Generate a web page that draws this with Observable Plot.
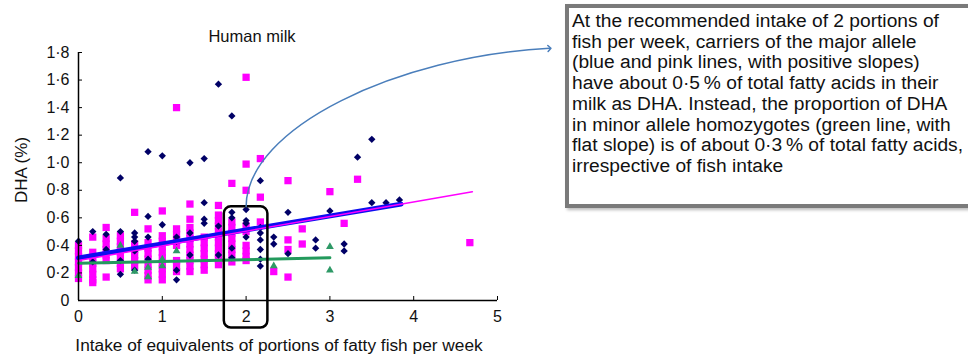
<!DOCTYPE html>
<html>
<head>
<meta charset="utf-8">
<script src="https://cdn.jsdelivr.net/npm/d3@7"></script>
<script src="https://cdn.jsdelivr.net/npm/@observablehq/plot@0.6"></script>
<style>
  html, body { margin: 0; padding: 0; background: #fff; overflow: hidden; }
  #wrap { position: relative; width: 968px; height: 359px; font-family: "Liberation Sans", Arial, sans-serif; color: #111; }
  #wrap svg { position: absolute; left: 0; top: 0; }
  .lbl { position: absolute; white-space: nowrap; font-size: 16px; line-height: 16px; }
  #note { position: absolute; left: 565px; top: 4px; width: 430px; height: 204px; box-sizing: border-box;
          border: 4px solid #7a7a7a; box-shadow: 2px 2px 3px #bbb; background: #fff;
          padding: 3px 0 0 3px; font-size: 19.2px; line-height: 20.7px; white-space: nowrap; color: #111; }
</style>
</head>
<body>
<div id="wrap">
  <div class="lbl" id="title" style="left:252px; top:28px; font-size:16.5px; transform:translateX(-50%);">Human milk</div>
  <div class="lbl" id="ylab" style="left:22px; top:170px; font-size:17px; transform:translate(-50%,-50%) rotate(-90deg);">DHA (%)</div>
  <div class="lbl" id="xlab" style="left:279px; top:337px; font-size:17.3px; transform:translateX(-50%);">Intake of equivalents of portions of fatty fish per week</div>
  <div id="note"></div>
</div>
<script>
// ---- data ----
const xTicks = [0, 1, 2, 3, 4, 5];
const yTicks = [0, 0.2, 0.4, 0.6, 0.8, 1.0, 1.2, 1.4, 1.6, 1.8];

// magenta squares
const pinkPoints = [
  [0,0.40],[0,0.36],[0,0.32],[0,0.28],[0,0.24],[0,0.20],[0,0.16],
  [0.17,0.46],[0.17,0.35],[0.17,0.31],[0.17,0.27],[0.17,0.23],[0.17,0.19],[0.17,0.15],[0.17,0.13],
  [0.33,0.53],[0.33,0.45],[0.33,0.41],[0.33,0.37],[0.33,0.33],[0.33,0.29],[0.33,0.17],
  [0.5,0.47],[0.5,0.43],[0.5,0.39],[0.5,0.35],[0.5,0.31],[0.5,0.27],[0.5,0.23],
  [0.67,0.64],[0.67,0.41],[0.67,0.37],[0.67,0.33],[0.67,0.29],[0.67,0.25],
  [0.83,0.52],[0.83,0.42],[0.83,0.38],[0.83,0.34],[0.83,0.30],[0.83,0.26],[0.83,0.22],[0.83,0.18],[0.83,0.15],
  [1,0.65],[1,0.47],[1,0.43],[1,0.39],[1,0.35],[1,0.31],[1,0.27],[1,0.23],[1,0.19],[1,0.15],
  [1.17,1.40],[1.17,0.52],[1.17,0.48],[1.17,0.44],[1.17,0.40],[1.17,0.29],[1.17,0.25],[1.17,0.21],
  [1.33,0.70],[1.33,0.59],[1.33,0.53],[1.33,0.49],[1.33,0.45],[1.33,0.41],[1.33,0.37],[1.33,0.33],[1.33,0.29],[1.33,0.25],[1.33,0.21],
  [1.5,0.46],[1.5,0.42],[1.5,0.38],[1.5,0.34],[1.5,0.30],[1.5,0.26],[1.5,0.22],
  [1.67,0.69],[1.67,0.62],[1.67,0.58],[1.67,0.54],[1.67,0.50],[1.67,0.46],[1.67,0.42],[1.67,0.38],[1.67,0.34],[1.67,0.30],[1.67,0.26],
  [1.83,0.85],[1.83,0.57],[1.83,0.53],[1.83,0.49],[1.83,0.45],[1.83,0.41],[1.83,0.37],[1.83,0.33],[1.83,0.28],
  [2,1.62],[2,0.99],[2,0.80],[2,0.54],[2,0.50],[2,0.40],[2,0.36],[2,0.32],[2,0.29],
  [2.17,1.03],[2.17,0.75],[2.17,0.57],
  [2.33,0.21],
  [2.5,0.87],[2.5,0.44],[2.5,0.37],[2.5,0.17],
  [2.67,0.52],[2.67,0.41],
  [3,0.79],[3.17,0.56],[3.33,0.88],[4.67,0.42]
];

// navy diamonds
const navyPoints = [
  [0,0.43],
  [0.17,0.50],[0.17,0.28],
  [0.33,0.48],[0.33,0.37],
  [0.5,0.89],[0.5,0.50],[0.5,0.29],[0.5,0.19],
  [0.67,0.49],[0.67,0.46],[0.67,0.43],[0.67,0.36],[0.67,0.22],
  [0.83,1.08],[0.83,0.61],[0.83,0.46],[0.83,0.30],
  [1,1.05],[1,0.55],
  [1.17,0.46],[1.17,0.43],[1.17,0.22],[1.17,0.15],
  [1.33,1.00],[1.33,0.49],[1.33,0.33],
  [1.5,1.03],[1.5,0.71],[1.5,0.59],[1.5,0.56],
  [1.67,1.57],[1.67,0.54],[1.67,0.33],
  [1.83,1.34],[1.83,0.64],[1.83,0.60],[1.83,0.38],[1.83,0.31],
  [2,0.66],[2,0.58],[2,0.56],[2,0.46],
  [2.17,0.87],[2.17,0.53],[2.17,0.49],[2.17,0.44],[2.17,0.37],[2.17,0.30],[2.17,0.25],
  [2.33,0.46],[2.33,0.41],
  [2.5,0.64],[2.5,0.34],
  [2.83,0.44],[2.83,0.38],
  [3,0.65],
  [3.17,0.41],[3.17,0.36],
  [3.33,1.04],
  [3.5,1.17],[3.5,0.71],[3.67,0.71],[3.83,0.73]
];

// green triangles
const greenPoints = [
  [0,0.18],[0.5,0.40],[0.67,0.21],[0.83,0.24],[0.83,0.17],
  [1,0.30],[1,0.25],[1.17,0.36],[2.33,0.25],[3,0.39],[3,0.22]
];

// regression lines
const blueLine = [[0,0.31],[3.85,0.70]];
const pinkLine = [[0,0.29],[4.7,0.79]];
const greenLine = [[0,0.27],[3.0,0.31]];

// annotations
const highlightBox = [{x1: 1.74, x2: 2.26, y1: -0.2, y2: 0.68}];
const calloutPath = [[2.0, 0.68],[5.62, 1.83]];
const noteLines = [
  "At the recommended intake of 2 portions of",
  "fish per week, carriers of the major allele",
  "(blue and pink lines, with positive slopes)",
  "have about 0\u00b75\u2009% of total fatty acids in their",
  "milk as DHA. Instead, the proportion of DHA",
  "in minor allele homozygotes (green line, with",
  "flat slope) is of about 0\u00b73\u2009% of total fatty acids,",
  "irrespective of fish intake"
];

// ---- chart ----
const fmtY = d => d === 0 ? "0" : d.toFixed(1).replace(".", "\u00b7");

// custom curve: swoop leaving vertically, arriving near-horizontally
function swoop(context) {
  let pts = [];
  return {
    areaStart() {}, areaEnd() {},
    lineStart() { pts = []; },
    lineEnd() {
      if (pts.length < 2) return;
      const [x0, y0] = pts[0], [x1, y1] = pts[pts.length - 1];
      context.moveTo(x0, y0);
      context.bezierCurveTo(x0, y0 + 0.5 * (y1 - y0), x0 + 0.5 * (x1 - x0), y0 + 0.95 * (y1 - y0), x1, y1);
    },
    point(x, y) { pts.push([x, y]); }
  };
}

const chart = Plot.plot({
  width: 968,
  height: 359,
  marginLeft: 78,
  marginRight: 471,
  marginTop: 52,
  marginBottom: 59,
  x: {domain: [0, 5], axis: null},
  y: {domain: [0, 1.8], axis: null},
  style: {fontFamily: "'Liberation Sans', Arial, sans-serif", color: "#111", background: "transparent"},
  marks: [
    Plot.dot(pinkPoints, {x: d => d[0], y: d => d[1], symbol: "square", r: 4.1, fill: "#ff00ff"}),
    Plot.dot(navyPoints, {x: d => d[0], y: d => d[1], symbol: "diamond2", r: 3.3, fill: "#000066", stroke: "none"}),
    Plot.dot(greenPoints, {x: d => d[0], y: d => d[1], symbol: "triangle", r: 2.9, fill: "#2e9966"}),
    Plot.line(blueLine, {x: d => d[0], y: d => d[1], stroke: "#0d0df0", strokeWidth: 4.8}),
    Plot.line(greenLine, {x: d => d[0], y: d => d[1], stroke: "#239a5c", strokeWidth: 3}),
    Plot.line(pinkLine, {x: d => d[0], y: d => d[1], stroke: "#ff00ff", strokeWidth: 1.5}),
    Plot.rect(highlightBox, {x1: "x1", x2: "x2", y1: "y1", y2: "y2", rx: 7, fill: "none", stroke: "#000", strokeWidth: 2.5}),
    Plot.line(calloutPath, {x: d => d[0], y: d => d[1], curve: swoop, stroke: "#4a7ebb", strokeWidth: 1.5, markerEnd: "arrow"}),
    Plot.ruleY([0], {x1: 0, x2: 5, stroke: "#000", strokeWidth: 1.5}),
    Plot.ruleX([0], {y1: 0, y2: 1.8, stroke: "#000", strokeWidth: 1.5}),
    Plot.ruleX(xTicks, {x: d => d, y1: 0, y2: 0, insetBottom: 4, stroke: "#000", strokeWidth: 1}),
    Plot.ruleY(yTicks, {y: d => d, x1: 0, x2: 0, insetRight: -4, stroke: "#000", strokeWidth: 1}),
    Plot.axisX({ticks: xTicks, tickSize: 0, tickPadding: 10, fontSize: 16, tickFormat: d => String(d), label: null}),
    Plot.axisY({ticks: yTicks, tickSize: 0, tickPadding: 9, fontSize: 16, tickFormat: fmtY, label: null})
  ]
});

const wrap = document.getElementById("wrap");
wrap.insertBefore(chart, wrap.firstChild);
document.getElementById("note").innerHTML = noteLines.map(s => s.replace(/&/g, "&amp;")).join("<br>");
</script>
</body>
</html>
